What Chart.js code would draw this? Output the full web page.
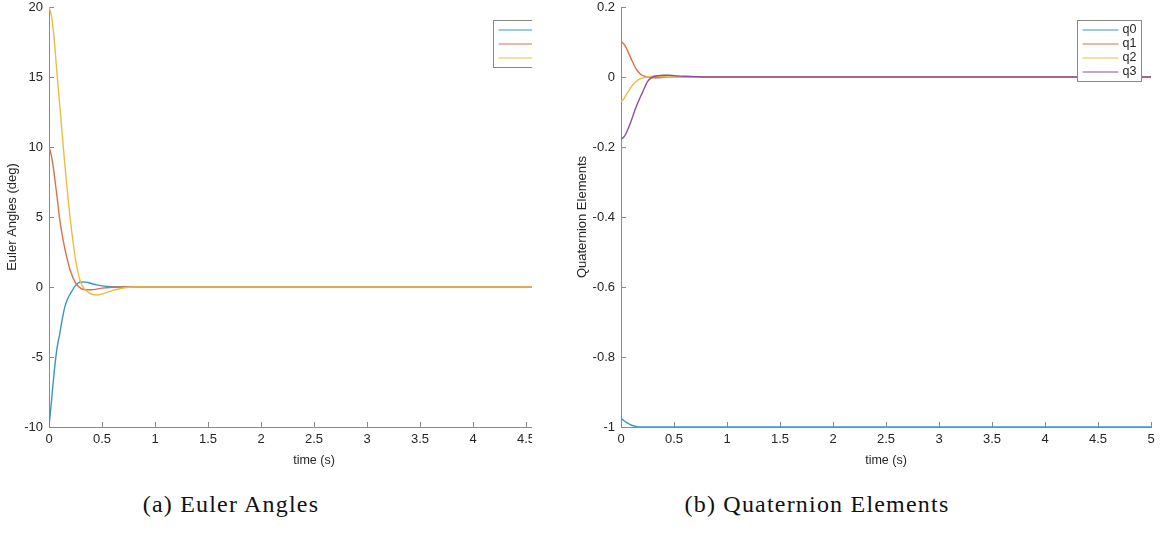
<!DOCTYPE html>
<html>
<head>
<meta charset="utf-8">
<script src="https://cdn.jsdelivr.net/npm/chart.js@4.4.1/dist/chart.umd.min.js"></script>
<style>
  html, body { margin: 0; padding: 0; background: #fff; }
  body { width: 1166px; height: 533px; position: relative; overflow: hidden; }
  #euler-wrap { position: absolute; left: 0; top: 0; width: 532px; height: 480px; overflow: hidden; }
  #euler-chart { position: absolute; left: 0; top: 0; }
  #quat-chart { position: absolute; left: 566px; top: 0; }
  .caption {
    position: absolute; top: 491px; transform: translateX(-50%);
    font-family: "Liberation Serif", "Times New Roman", serif;
    font-size: 24px; letter-spacing: 1.2px; color: #111; white-space: nowrap;
  }
</style>
</head>
<body>
<div id="euler-wrap"><canvas id="euler-chart" width="600" height="480"></canvas></div>
<canvas id="quat-chart" width="600" height="480"></canvas>
<div class="caption" style="left: 231px;">(a) Euler Angles</div>
<div class="caption" style="left: 817px;">(b) Quaternion Elements</div>

<script>
// simulation time samples (s)
const timeS = [0, 0.025, 0.05, 0.075, 0.1, 0.125, 0.15, 0.175, 0.2, 0.25, 0.3, 0.35, 0.4, 0.45, 0.5, 0.6, 0.7, 0.8, 1, 5];

// euler angles (deg)
const rollDeg  = [-10, -8.0, -6.0, -4.4, -3.4, -2.3, -1.4, -0.85, -0.5, 0.1, 0.36, 0.35, 0.25, 0.15, 0.08, 0.02, 0, 0, 0, 0];
const pitchDeg = [10, 9.3, 8.0, 6.5, 4.9, 3.7, 2.7, 1.9, 1.2, 0.3, -0.1, -0.2, -0.2, -0.15, -0.08, -0.02, 0, 0, 0, 0];
const yawDeg   = [20, 19.3, 17.6, 15.3, 13.1, 10.9, 8.7, 6.7, 4.9, 2.0, 0.3, -0.25, -0.5, -0.57, -0.5, -0.25, -0.07, 0, 0, 0];
const eulerLabels = ['roll', 'pitch', 'yaw'];

// quaternion elements
const q0 = [-0.976, -0.981, -0.987, -0.991, -0.995, -0.997, -0.999, -1, -1, -1, -1, -1, -1, -1, -1, -1, -1, -1, -1, -1];
const q1 = [0.1, 0.095, 0.083, 0.066, 0.049, 0.033, 0.02, 0.011, 0.005, 0, -0.002, -0.002, -0.001, -0.001, 0, 0, 0, 0, 0, 0];
const q2 = [-0.07, -0.063, -0.05, -0.038, -0.027, -0.018, -0.011, -0.006, -0.003, 0, 0.002, 0.002, 0.001, 0, 0, 0, 0, 0, 0, 0];
const q3 = [-0.177, -0.172, -0.16, -0.142, -0.122, -0.1, -0.08, -0.062, -0.046, -0.013, 0, 0.004, 0.005, 0.005, 0.004, 0.002, 0.001, 0, 0, 0];
const quatLabels = ['q0', 'q1', 'q2', 'q3'];

// axis ticks
const timeTicks = [0, 0.5, 1, 1.5, 2, 2.5, 3, 3.5, 4, 4.5, 5];
const eulerTicks = [-10, -5, 0, 5, 10, 15, 20];
const quatTicks = [-1, -0.8, -0.6, -0.4, -0.2, 0, 0.2];

const lineColors = ['#3b93cc', '#d9714a', '#ebbd45', '#8d4f9c'];
const axisGray = '#8a8a8a';
const textColor = '#262626';
const fontFamily = '"Liberation Sans", Arial, Helvetica, sans-serif';

/**
 * Tick marks drawn inward from the left and bottom axis lines
 */
const inwardTicks = {
    id: 'inwardTicks',
    beforeDatasetsDraw(chart) {
        const { ctx, chartArea, scales: { x, y } } = chart;
        ctx.save();
        ctx.strokeStyle = axisGray;
        ctx.lineWidth = 1;
        ctx.beginPath();
        x.ticks.forEach(t => {
            const px = Math.round(x.getPixelForValue(t.value)) + 0.5;
            ctx.moveTo(px, chartArea.bottom);
            ctx.lineTo(px, chartArea.bottom - 5);
        });
        y.ticks.forEach(t => {
            const py = Math.round(y.getPixelForValue(t.value)) + 0.5;
            ctx.moveTo(chartArea.left, py);
            ctx.lineTo(chartArea.left + 5, py);
        });
        ctx.stroke();
        ctx.restore();
    }
};

/**
 * Boxed legend in the upper right corner of the plot area
 */
const boxedLegend = {
    id: 'boxedLegend',
    afterDatasetsDraw(chart) {
        const { ctx, chartArea } = chart;
        const sets = chart.data.datasets;
        ctx.save();
        ctx.font = '12.5px ' + fontFamily;
        const textW = Math.max(...sets.map(d => ctx.measureText(d.label).width));
        const w = Math.round(5 + 36 + 4 + textW + 5);
        const h = sets.length * 14 + 5;
        const x0 = Math.round(chartArea.right - 10 - w) + 0.5;
        const y0 = Math.round(chartArea.top + 13) + 0.5;
        ctx.fillStyle = '#fff';
        ctx.fillRect(x0, y0, w, h);
        ctx.strokeStyle = axisGray;
        ctx.lineWidth = 1;
        ctx.strokeRect(x0, y0, w, h);
        ctx.textBaseline = 'middle';
        sets.forEach((d, i) => {
            const yy = y0 + 9.5 + i * 14;
            ctx.beginPath();
            ctx.strokeStyle = lineColors[i];
            ctx.moveTo(x0 + 5, yy);
            ctx.lineTo(x0 + 41, yy);
            ctx.stroke();
            ctx.fillStyle = textColor;
            ctx.fillText(d.label, x0 + 45, yy);
        });
        ctx.restore();
    }
};

function makeSeries(labels, values) {
    return labels.map((label, i) => ({
        label,
        data: timeS.map((t, k) => ({ x: t, y: values[i][k] })),
        borderColor: lineColors[i],
        borderWidth: 1.4,
        pointRadius: 0,
        cubicInterpolationMode: 'monotone',
        fill: false,
        // later series are drawn over earlier ones
        order: labels.length - i
    }));
}

function makeChart(canvasId, datasets, yTicks, yTitle, yAxisWidth, padRight, yTitlePad) {
    const tickFont = { family: fontFamily, size: 13, lineHeight: 1 };
    return new Chart(document.getElementById(canvasId), {
        type: 'line',
        data: { datasets },
        options: {
            responsive: false,
            devicePixelRatio: 1,
            animation: false,
            layout: { padding: { top: 7, right: padRight, left: 0, bottom: 0 } },
            plugins: { legend: { display: false }, tooltip: { enabled: false } },
            scales: {
                x: {
                    type: 'linear',
                    min: timeTicks[0],
                    max: timeTicks[timeTicks.length - 1],
                    afterBuildTicks: s => { s.ticks = timeTicks.map(v => ({ value: v })); },
                    afterFit: s => { s.height = 53; },
                    grid: { display: false, drawTicks: false },
                    border: { display: true, color: axisGray, width: 1 },
                    ticks: { color: textColor, font: tickFont, padding: 6, maxRotation: 0, autoSkip: false,
                        callback: v => String(v) },
                    title: { display: true, text: 'time (s)', color: textColor,
                        font: { family: fontFamily, size: 12.5, lineHeight: 1.2 }, padding: { top: 0, bottom: 11.5 } }
                },
                y: {
                    type: 'linear',
                    min: yTicks[0],
                    max: yTicks[yTicks.length - 1],
                    afterBuildTicks: s => { s.ticks = yTicks.map(v => ({ value: v })); },
                    // fixed axis width, and no extra room for the end labels
                    afterFit: s => { s.width = yAxisWidth; s.paddingTop = 0; s.paddingBottom = 0; },
                    grid: { display: false, drawTicks: false },
                    border: { display: true, color: axisGray, width: 1 },
                    ticks: { color: textColor, font: tickFont, padding: 6, autoSkip: false,
                        callback: v => String(Math.round(v * 10) / 10) },
                    title: { display: true, text: yTitle, color: textColor,
                        font: { family: fontFamily, size: 13, lineHeight: 1.2 }, padding: { top: yTitlePad, bottom: 0 } }
                }
            }
        },
        plugins: [inwardTicks, boxedLegend]
    });
}

makeChart('euler-chart', makeSeries(eulerLabels, [rollDeg, pitchDeg, yawDeg]),
    eulerTicks, 'Euler Angles (deg)', 49, 21, 4.5);
makeChart('quat-chart', makeSeries(quatLabels, [q0, q1, q2, q3]),
    quatTicks, 'Quaternion Elements', 55, 15, 9);
</script>
</body>
</html>
